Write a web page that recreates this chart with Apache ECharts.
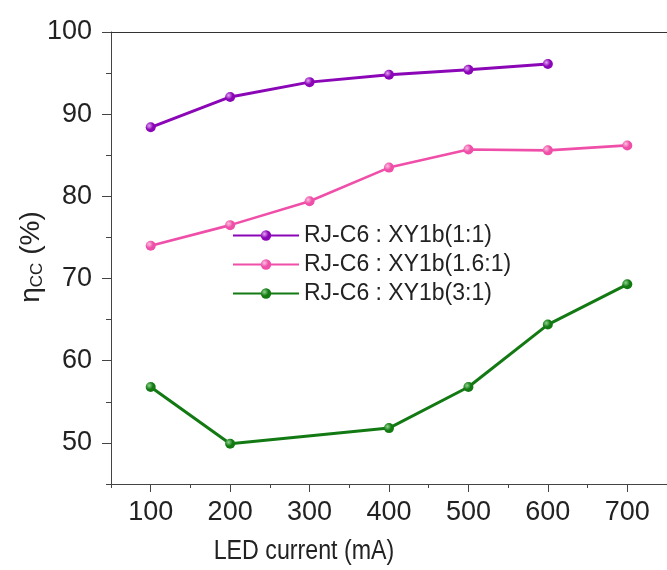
<!DOCTYPE html>
<html><head><meta charset="utf-8">
<script src="https://cdn.jsdelivr.net/npm/echarts@6/dist/echarts.min.js"></script>
<style>html,body{margin:0;padding:0;background:#fff}#c{width:667px;height:570px}</style>
</head><body><div id="c"></div>
<script>
// ---- data ----
const currents11 = [100, 200, 300, 400, 500, 600];
const eta11 = [88.4, 92.1, 93.9, 94.8, 95.4, 96.1];
const currents161 = [100, 200, 300, 400, 500, 600, 700];
const eta161 = [74.0, 76.5, 79.4, 83.5, 85.7, 85.6, 86.2];
const currents31 = [100, 200, 400, 500, 600, 700];
const eta31 = [56.8, 49.9, 51.8, 56.8, 64.4, 69.3];
const seriesNames = ['RJ-C6 : XY1b(1:1)', 'RJ-C6 : XY1b(1.6:1)', 'RJ-C6 : XY1b(3:1)'];
const xTickLabels = [100, 200, 300, 400, 500, 600, 700];
const xMinorTicks = [50, 150, 250, 350, 450, 550, 650, 750];
const yTickLabels = [50, 60, 70, 80, 90, 100];
const yMinorTicks = [45, 55, 65, 75, 85, 95];
const xTitle = 'LED current (mA)';

const FONT = "'Liberation Sans', Arial, sans-serif";
const colors = ['#8a06b6', '#ef4fa8', '#137a13'];
const lights = ['#e7a6f5', '#fbc2e0', '#8fd48f'];

function pairs(xs, ys) { return xs.map((x, i) => [x, ys[i]]); }
function ball(i) {
  return new echarts.graphic.RadialGradient(0.35, 0.35, 0.7, [
    { offset: 0, color: lights[i] }, { offset: 0.55, color: colors[i] }, { offset: 1, color: colors[i] }
  ]);
}
const dataSets = [pairs(currents11, eta11), pairs(currents161, eta161), pairs(currents31, eta31)];
const widths = [3, 2.6, 3];

const chart = echarts.init(document.getElementById('c'), null, { renderer: 'canvas' });
const axisLineStyle = { color: '#444', width: 1 };
chart.setOption({
  animation: false,
  backgroundColor: '#fff',
  grid: { left: 111, top: 32, bottom: 86, right: -4, containLabel: false },
  xAxis: [
    {
      type: 'value', min: 50, max: 750, interval: 50, position: 'bottom',
      axisLine: { show: true, lineStyle: axisLineStyle },
      axisTick: { show: true, inside: false, length: 8, customValues: xTickLabels, lineStyle: axisLineStyle },
      axisLabel: { show: true, customValues: xTickLabels, margin: 15, fontSize: 27, color: '#222', fontFamily: FONT },
      splitLine: { show: false }
    },
    {
      type: 'value', min: 50, max: 750, interval: 50, position: 'bottom',
      axisLine: { show: false },
      axisTick: { show: true, inside: false, length: 4, customValues: xMinorTicks, lineStyle: axisLineStyle },
      axisLabel: { show: false }, splitLine: { show: false }
    },
    {
      type: 'value', min: 50, max: 750, interval: 50, position: 'top',
      axisLine: { show: true, lineStyle: { color: '#333', width: 1.2 } },
      axisTick: { show: false }, axisLabel: { show: false }, splitLine: { show: false }
    }
  ],
  yAxis: [
    {
      type: 'value', min: 45, max: 100, interval: 5, position: 'left',
      axisLine: { show: true, lineStyle: axisLineStyle },
      axisTick: { show: true, inside: false, length: 9, customValues: yTickLabels, lineStyle: axisLineStyle },
      axisLabel: { show: true, customValues: yTickLabels, margin: 19, fontSize: 27, color: '#222', fontFamily: FONT },
      splitLine: { show: false }
    },
    {
      type: 'value', min: 45, max: 100, interval: 5, position: 'left',
      axisLine: { show: false },
      axisTick: { show: true, inside: false, length: 5, customValues: yMinorTicks, lineStyle: axisLineStyle },
      axisLabel: { show: false }, splitLine: { show: false }
    }
  ],
  legend: {
    orient: 'vertical', left: 232, top: 224, padding: 0,
    itemWidth: 66, itemHeight: 13, itemGap: 6,
    textStyle: { fontSize: 23, color: '#222', fontFamily: FONT, lineHeight: 23 },
    data: seriesNames
  },
  graphic: [
    {
      type: 'text', x: 304, y: 552, scaleX: 0.86,
      style: { text: xTitle, fontSize: 27, fill: '#222', fontFamily: FONT, align: 'center', verticalAlign: 'middle' }
    },
    {
      type: 'text', x: 31, y: 257, rotation: Math.PI / 2,
      style: {
        text: '{a|η}{b|CC}{a| (%)}', align: 'center', verticalAlign: 'middle',
        rich: {
          a: { fontSize: 28, fill: '#222', fontFamily: FONT, verticalAlign: 'middle', lineHeight: 30 },
          b: { fontSize: 17, fill: '#222', fontFamily: FONT, verticalAlign: 'bottom', lineHeight: 30, padding: [10, 0, 0, 0] }
        }
      }
    }
  ],
  series: dataSets.map((d, i) => ({
    name: seriesNames[i], type: 'line', xAxisIndex: 0, yAxisIndex: 0,
    data: d, symbol: 'circle', symbolSize: 10,
    lineStyle: { color: colors[i], width: widths[i] },
    itemStyle: { color: ball(i), borderWidth: 0 },
    emphasis: { disabled: true }
  }))
});
</script>
</body></html>
